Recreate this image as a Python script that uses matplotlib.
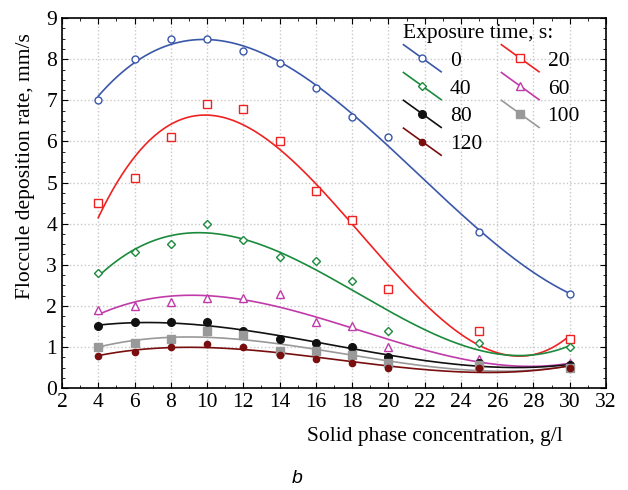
import numpy as np
import matplotlib
matplotlib.use('Agg')
import matplotlib.pyplot as plt
from matplotlib.legend_handler import HandlerLine2D
from matplotlib.lines import Line2D
from matplotlib.ticker import MultipleLocator

plt.rcParams['font.family'] = ['Liberation Serif', 'DejaVu Serif']

# concentration, g/l
conc = [4, 6, 8, 10, 12, 14, 16, 18, 20, 25, 30]

# deposition rate, mm/s, per exposure time
rate_0 = [7.0, 8.0, 8.5, 8.5, 8.2, 7.9, 7.3, 6.6, 6.1, 3.8, 2.3]
rate_20 = [4.5, 5.1, 6.1, 6.9, 6.8, 6.0, 4.8, 4.1, 2.4, 1.4, 1.2]
rate_40 = [2.8, 3.3, 3.5, 4.0, 3.6, 3.2, 3.1, 2.6, 1.4, 1.1, 1.0]
rate_60 = [1.9, 2.0, 2.1, 2.2, 2.2, 2.3, 1.6, 1.5, 1.0, 0.7, 0.6]
rate_80 = [1.5, 1.6, 1.6, 1.6, 1.4, 1.2, 1.1, 1.0, 0.75, 0.6, 0.55]
rate_100 = [1.0, 1.1, 1.2, 1.4, 1.3, 0.9, 0.9, 0.8, 0.6, 0.55, 0.5]
rate_120 = [0.78, 0.88, 1.0, 1.08, 1.0, 0.8, 0.7, 0.6, 0.5, 0.5, 0.5]

labels = ['0', '20', '40', '60', '80', '100', '120']
rates = [rate_0, rate_20, rate_40, rate_60, rate_80, rate_100, rate_120]
colors = ['#3a57aa', '#ee2222', '#1b8a3c', '#c03aaa', '#111111', '#999999', '#7a0e0e']
markers = ['o', 's', 'D', '^', 'o', 's', 'o']
msizes = [5, 6, 4, 6, 5.5, 6, 4.5]
filled = [False, False, False, False, True, True, True]

FS = 15.5


# legend handle: slanted line with the marker in the middle
class SlantHandler(HandlerLine2D):
    def create_artists(self, legend, orig_handle, xdescent, ydescent,
                       width, height, fontsize, trans):
        x0, x1 = -xdescent, width - xdescent
        y0, y1 = height * 1.4 - ydescent, -height * 0.4 - ydescent
        line = Line2D([x0, x1], [y0, y1], color=orig_handle.get_color(),
                      lw=orig_handle.get_linewidth())
        mark = Line2D([(x0 + x1) / 2], [(y0 + y1) / 2], linestyle='none',
                      marker=orig_handle.get_marker(),
                      markersize=orig_handle.get_markersize(),
                      markerfacecolor=orig_handle.get_markerfacecolor(),
                      markeredgecolor=orig_handle.get_markeredgecolor(),
                      markeredgewidth=orig_handle.get_markeredgewidth())
        line.set_transform(trans)
        mark.set_transform(trans)
        return [line, mark]


fig = plt.figure(figsize=(6.28, 4.90), dpi=100)
ax = fig.add_axes([0.0987, 0.208, 0.8663, 0.755])

xs = np.linspace(4, 30, 300)
handles = {}
for lab, y, c, m, ms, f in zip(labels, rates, colors, markers, msizes, filled):
    coef = np.polyfit(conc, y, 3)
    ax.plot(xs, np.polyval(coef, xs), color=c, lw=1.2, zorder=3)
    ax.plot(conc, y, linestyle='none', marker=m, markersize=ms,
            markerfacecolor=c if f else 'white', markeredgecolor=c,
            markeredgewidth=1.0, zorder=4)
    handles[lab] = Line2D([], [], color=c, lw=1.2, marker=m, markersize=ms,
                          markerfacecolor=c if f else 'white',
                          markeredgecolor=c, markeredgewidth=1.0)

ax.set_xlim(2, 32)
ax.set_ylim(0, 9)
ax.xaxis.set_major_locator(MultipleLocator(2))
ax.xaxis.set_minor_locator(MultipleLocator(1))
ax.yaxis.set_major_locator(MultipleLocator(1))
ax.yaxis.set_minor_locator(MultipleLocator(0.25))
ax.tick_params(which='both', direction='in', top=True, right=True, labelsize=FS)
ax.tick_params(which='major', length=4, width=0.8)
ax.tick_params(which='minor', length=2.5, width=0.6)
ax.grid(True, which='major', color='#c8c8c8', linestyle=':', linewidth=1.0)
for sp in ax.spines.values():
    sp.set_linewidth(1.2)

ax.set_xlabel('Solid phase concentration, g/l', fontsize=FS, ha='right')
ax.xaxis.set_label_coords(0.921, -0.105)
ax.set_ylabel('Floccule deposition rate, mm/s', fontsize=FS)
ax.yaxis.set_label_coords(-0.05, 0.60)

order = ['0', '40', '80', '120', '20', '60', '100']
leg = ax.legend([handles[k] for k in order], order, ncol=2, frameon=False,
                title='Exposure time, s:', title_fontsize=FS, fontsize=FS,
                loc='upper left', bbox_to_anchor=(0.6, 1.025),
                handler_map={Line2D: SlantHandler()},
                handlelength=1.75, handletextpad=0.4, columnspacing=0.9,
                labelspacing=0.36, borderpad=0.2, alignment='left')

fig.text(0.473, 0.024, 'b', fontsize=14, style='italic', family='Liberation Sans',
         ha='center', va='center')

fig.savefig('out.png', dpi=100)
